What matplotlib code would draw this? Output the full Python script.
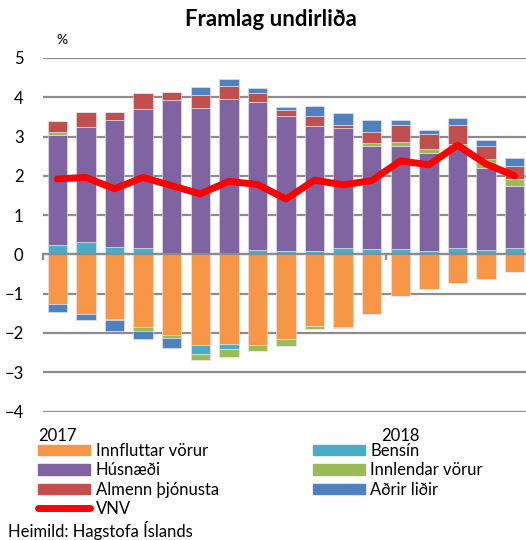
import matplotlib
matplotlib.use("Agg")
import matplotlib.pyplot as plt
import numpy as np
from matplotlib.lines import Line2D
from matplotlib.patches import Patch
from matplotlib.transforms import blended_transform_factory

plt.rcParams['font.family'] = ['Lato', 'DejaVu Sans']

# jan 2017 - mai 2018, framlag til verðbólgu (%)
months = ["jan17", "feb17", "mar17", "apr17", "maí17", "jún17", "júl17", "ágú17",
          "sep17", "okt17", "nóv17", "des17", "jan18", "feb18", "mar18", "apr18", "maí18"]
year_labels = ["2017", "2018"]
year_pos = [0, 12]

innfluttar = [-1.27, -1.52, -1.64, -1.86, -2.04, -2.30, -2.27, -2.30, -2.16,
              -1.83, -1.84, -1.52, -1.05, -0.88, -0.73, -0.63, -0.46]
bensin = [0.23, 0.31, 0.20, 0.15, 0.0, -0.24, -0.15, 0.10, 0.08,
          0.08, 0.16, 0.14, 0.13, 0.09, 0.17, 0.10, 0.17]
husnaedi = [2.81, 2.94, 3.22, 3.54, 3.92, 3.72, 3.95, 3.77, 3.44,
            3.18, 3.07, 2.63, 2.64, 2.49, 2.53, 2.11, 1.57]
innlendar = [0.08, 0.0, -0.04, -0.08, -0.10, -0.15, -0.18, -0.16, -0.18,
             -0.06, -0.03, 0.07, 0.08, 0.11, 0.11, 0.22, 0.19]
almenn = [0.28, 0.38, 0.21, 0.43, 0.21, 0.33, 0.34, 0.25, 0.15,
          0.26, 0.07, 0.27, 0.44, 0.37, 0.48, 0.32, 0.31]
adrir = [-0.19, -0.14, -0.27, -0.22, -0.24, 0.21, 0.18, 0.11, 0.08,
         0.26, 0.31, 0.31, 0.14, 0.10, 0.19, 0.17, 0.22]
vnv = [1.92, 1.96, 1.67, 1.96, 1.75, 1.54, 1.86, 1.78, 1.41,
       1.89, 1.77, 1.88, 2.38, 2.28, 2.78, 2.30, 2.00]

names = ["Innfluttar vörur", "Bensín", "Húsnæði", "Innlendar vörur",
         "Almenn þjónusta", "Aðrir liðir"]
colors = ["#F79646", "#4BACC6", "#8064A2", "#9BBB59", "#C0504D", "#4F81BD"]
series = [innfluttar, bensin, husnaedi, innlendar, almenn, adrir]

grid_c = "#8c8c8c"

fig = plt.figure(figsize=(5.26, 5.40), dpi=100)
ax = fig.add_axes([43/526, 1-411.5/540, 486/526, (411.5-58)/540])

x = np.arange(len(months))
pos_base = np.zeros(len(x))
neg_base = np.zeros(len(x))
for vals, c in zip(series, colors):
    v = np.array(vals)
    p = np.where(v > 0, v, 0)
    n = np.where(v < 0, v, 0)
    ax.bar(x, p, 0.68, bottom=pos_base, color=c, edgecolor="#e8e8f0", linewidth=0.4, zorder=3)
    ax.bar(x, n, 0.68, bottom=neg_base, color=c, edgecolor="#e8e8f0", linewidth=0.4, zorder=3)
    pos_base += p
    neg_base += n

ax.plot(x, vnv, color="#FF0000", lw=5, solid_joinstyle="round", solid_capstyle="round", zorder=5)

ax.set_xlim(-0.5, len(x) - 0.5)
ax.set_ylim(-4, 5)
ax.set_yticks(range(-4, 6))
ax.yaxis.grid(True, color=grid_c, lw=1.6)
ax.set_axisbelow(True)
for s in ["top", "right", "left"]:
    ax.spines[s].set_visible(False)
ax.spines["bottom"].set_position(("data", 0))
ax.spines["bottom"].set_color(grid_c)
ax.spines["bottom"].set_linewidth(1.6)
ax.spines["bottom"].set_zorder(4)
ax.tick_params(axis="y", length=0, labelsize=12, pad=14)
ax.set_xticks([-0.5, 11.5])
ax.set_xticklabels(["", ""])
ax.tick_params(axis="x", length=4, width=1.6, color=grid_c)

tr = blended_transform_factory(ax.transData, fig.transFigure)
for p, lab in zip(year_pos, year_labels):
    ax.text(p, 1-436/540, lab, transform=tr, ha="center", va="center", fontsize=12)

fig.text(271/526, 1-19/540, "Framlag undirliða", ha="center", va="center",
         fontsize=16, fontweight="bold")
fig.text(62/526, 1-40/540, "%", ha="center", va="center", fontsize=10)

h = [Patch(color=c) for c in colors]
vnv_h = Line2D([], [], color="#FF0000", lw=5, solid_capstyle="round")
kw = dict(frameon=False, borderpad=0, borderaxespad=0, handlelength=3.1,
          handleheight=0.6, handletextpad=0.35, labelspacing=0.2, fontsize=12,
          loc="upper left")
fig.legend([h[0], h[2], h[4], vnv_h], [names[0], names[2], names[4], "VNV"],
           bbox_to_anchor=(38/526, 1-443/540), **kw)
fig.legend([h[1], h[3], h[5]], [names[1], names[3], names[5]],
           bbox_to_anchor=(313/526, 1-443/540), **kw)

fig.text(8/526, 1-531/540, "Heimild: Hagstofa Íslands", ha="left", va="center", fontsize=12)

fig.savefig("out.png", dpi=100)
